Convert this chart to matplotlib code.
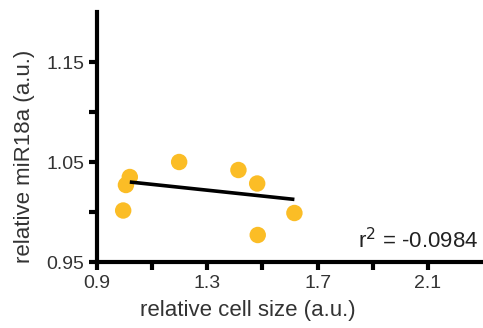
import matplotlib
matplotlib.use("Agg")
import matplotlib.pyplot as plt
from matplotlib.ticker import FixedLocator

plt.rcParams['font.family'] = ['Liberation Sans', 'DejaVu Sans']

cell_size = [0.995, 1.005, 1.019, 1.198, 1.413, 1.481, 1.483, 1.616]
mir18a = [1.0015, 1.027, 1.035, 1.050, 1.042, 1.0285, 0.977, 0.999]
fit_x = [1.019, 1.616]
fit_y = [1.030, 1.0126]
r2_text = "r$^2$ = -0.0984"

xticks_major = [0.9, 1.3, 1.7, 2.1]
xticks_minor = [1.1, 1.5, 1.9]
yticks_major = [0.95, 1.05, 1.15]
yticks_minor = [1.00, 1.10]

fig = plt.figure(figsize=(4.83, 3.28), dpi=100)
ax = fig.add_axes([0.2008, 0.2012, 0.7992, 0.7622])

ax.scatter(cell_size, mir18a, s=140, color='#FBBD26', edgecolors='none', zorder=3)
ax.plot(fit_x, fit_y, color='black', lw=2.6, zorder=4, solid_capstyle='butt')

ax.set_xlim(0.9, 2.3)
ax.set_ylim(0.95, 1.20)

for s in ['top', 'right']:
    ax.spines[s].set_visible(False)
for s in ['left', 'bottom']:
    ax.spines[s].set_linewidth(3)

ax.xaxis.set_major_locator(FixedLocator(xticks_major))
ax.xaxis.set_minor_locator(FixedLocator(xticks_minor))
ax.yaxis.set_major_locator(FixedLocator(yticks_major))
ax.yaxis.set_minor_locator(FixedLocator(yticks_minor))
ax.set_xticklabels([f"{v:.1f}" for v in xticks_major])
ax.set_yticklabels([f"{v:.2f}" for v in yticks_major])
ax.tick_params(which='both', direction='out', length=6, width=3, labelsize=14, pad=3, colors='black')
ax.tick_params(axis='both', which='major', labelcolor='#333333')

ax.set_xlabel("relative cell size (a.u.)", fontsize=16, color='#333333')
ax.set_ylabel("relative miR18a (a.u.)", fontsize=16, color='#333333')
ax.xaxis.set_label_coords(0.391, -0.15)
ax.yaxis.set_label_coords(-0.16, 0.424)

ax.text(2.283, 0.964, r2_text, fontsize=16, ha='right', va='baseline', color='#222222')

fig.savefig("out.png", dpi=100)
